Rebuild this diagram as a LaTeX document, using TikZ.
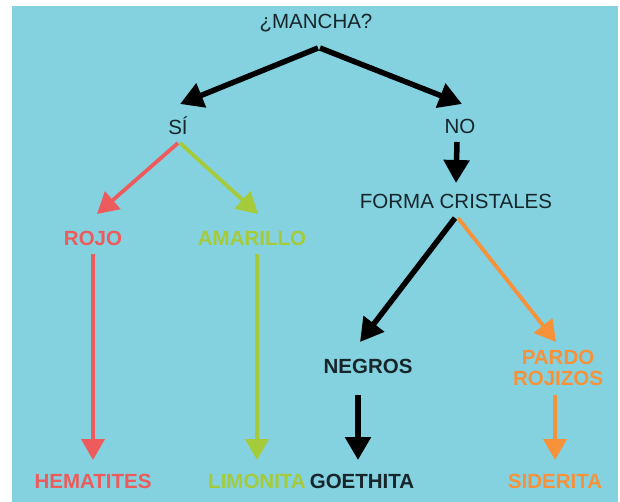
\documentclass[tikz,border=0pt]{standalone}
\usepackage{fontspec}
\setmainfont{Liberation Sans}
\usepackage{tikz}
\usetikzlibrary{arrows.meta, positioning}
\definecolor{fondo}{HTML}{84D1DF}
\definecolor{tinta}{HTML}{16262B}
\definecolor{rojo}{HTML}{EE5B5C}
\definecolor{verde}{HTML}{A5CB3B}
\definecolor{naranja}{HTML}{F7923A}
\tikzstyle{pregunta} = [inner sep=0pt, text=tinta, font=\fontsize{20.5}{23}\selectfont]
\tikzstyle{hoja}     = [inner sep=0pt, font=\fontsize{20.5}{23}\selectfont\bfseries, align=center]
\tikzstyle{flecha}   = [line width=5.5pt, draw=black, -{Triangle[length=23pt,width=25pt]}]
\tikzstyle{flechac}  = [line width=3.8pt, -{Triangle[length=21pt,width=23pt]}]

\begin{document}
\begin{tikzpicture}[x=1pt, y=-1pt]
    \useasboundingbox (0,0) rectangle (620,502);
    \fill [white] (0,0) rectangle (620,502);
    \fill [fondo] (12,6) rectangle (618,502);

    \node (mancha)    [pregunta] at (316,23)  {¿MANCHA?};
    \node (si)        [pregunta] at (178,126) {SÍ};
    \node (no)        [pregunta] at (460,126) {NO};
    \node (rojo)      [hoja, text=rojo]    at (93,238)  {ROJO};
    \node (amarillo)  [hoja, text=verde]   at (252,238) {AMARILLO};
    \node (forma)     [pregunta] at (456,201) {FORMA CRISTALES};
    \node (negros)    [hoja, text=tinta]   at (368,366) {NEGROS};
    \node (pardo)     [hoja, text=naranja] at (558,368) {PARDO\\[-2pt]ROJIZOS};
    \node (hematites) [hoja, text=rojo]    at (93,481)  {HEMATITES};
    \node (limonita)  [hoja, text=verde]   at (257,481) {LIMONITA};
    \node (goethita)  [hoja, text=tinta]   at (362,481) {GOETHITA};
    \node (siderita)  [hoja, text=naranja] at (555,481) {SIDERITA};

    \draw [flecha] ([shift={(2,25)}]mancha.center)  -- ([shift={(2,-22)}]si.center);
    \draw [flecha] ([shift={(4,25)}]mancha.center)  -- ([shift={(2,-22)}]no.center);
    \draw [flecha] ([shift={(-3,16)}]no.center)     -- ([shift={(0,-18)}]forma.center);
    \draw [flechac, color=rojo]  ([shift={(0,17)}]si.center) -- ([shift={(4,-24)}]rojo.center);
    \draw [flechac, color=verde] ([shift={(2,17)}]si.center) -- ([shift={(6,-24)}]amarillo.center);
    \draw [flechac, color=rojo]  ([shift={(0,16)}]rojo.center)     -- ([shift={(0,-21)}]hematites.center);
    \draw [flechac, color=verde] ([shift={(5,16)}]amarillo.center) -- ([shift={(0,-21)}]limonita.center);
    \draw [flecha]  ([shift={(-1,17)}]forma.center) -- ([shift={(-8,-24)}]negros.center);
    \draw [flechac, color=naranja] ([shift={(2,17)}]forma.center) -- ([shift={(-2,-26)}]pardo.center);
    \draw [flecha]  ([shift={(-10,29)}]negros.center) -- ([shift={(-4,-21)}]goethita.center);
    \draw [flechac, color=naranja] ([shift={(-3,27)}]pardo.center) -- ([shift={(0,-21)}]siderita.center);
\end{tikzpicture}
\end{document}
